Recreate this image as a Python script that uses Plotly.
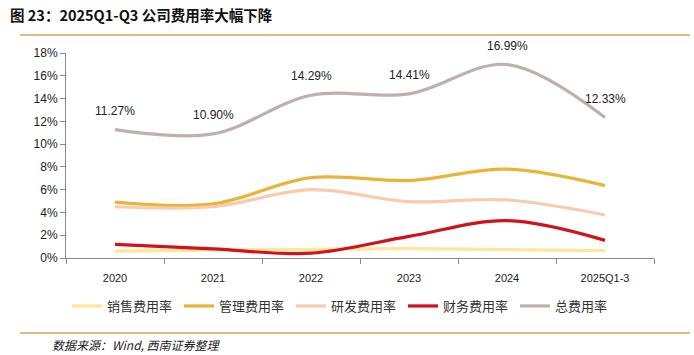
import plotly.graph_objects as go

categories = ["2020", "2021", "2022", "2023", "2024", "2025Q1-3"]
sales = [0.60, 0.70, 0.76, 0.82, 0.73, 0.64]
admin = [4.90, 4.75, 7.05, 6.80, 7.80, 6.35]
rnd = [4.50, 4.50, 6.00, 4.95, 5.10, 3.78]
finance = [1.20, 0.80, 0.42, 1.90, 3.28, 1.55]
total = [11.27, 10.90, 14.29, 14.41, 16.99, 12.33]
y_ticks = [0, 2, 4, 6, 8, 10, 12, 14, 16, 18]

series = [
    ("销售费用率", sales, "#FFE699"),
    ("管理费用率", admin, "#E9B43A"),
    ("研发费用率", rnd, "#F8CBAD"),
    ("财务费用率", finance, "#D0121C"),
    ("总费用率", total, "#BFB0B0"),
]

font_cjk = "Noto Sans CJK SC"
W, H = 694, 355
L, R, T, B = 66, 40, 53, 97
pw, ph = W - L - R, H - T - B


def px_x(x):
    return (x - L) / pw


def px_y(y):
    return (H - B - y) / ph


fig = go.Figure()
for name, vals, color in series:
    fig.add_trace(go.Scatter(
        x=categories, y=vals, name=name, mode="lines",
        line=dict(color=color, width=3.2, shape="spline", smoothing=1.0),
        cliponaxis=False,
    ))

annotations = []
for i, v in enumerate(total):
    annotations.append(dict(
        x=i, y=v, xref="x", yref="y", text=f"{v:.2f}%", showarrow=False,
        yshift=19, font=dict(size=12, color="#222222", family="Liberation Sans"),
    ))

annotations.append(dict(
    x=px_x(8), y=px_y(14), xref="paper", yref="paper", xanchor="left", yanchor="middle",
    text="<b>图 23：2025Q1-Q3 公司费用率大幅下降</b>", showarrow=False,
    font=dict(size=14.5, color="#111111", family=font_cjk),
))
annotations.append(dict(
    x=px_x(50), y=px_y(344), xref="paper", yref="paper", xanchor="left", yanchor="middle",
    showarrow=False, text="<i>数据来源：Wind, 西南证券整理</i>",
    font=dict(size=12, color="#222222", family=font_cjk),
))

shapes = [
    dict(type="line", xref="paper", yref="paper",
         x0=px_x(20), x1=px_x(690), y0=px_y(35), y1=px_y(35),
         line=dict(color="#D6A560", width=1.5)),
    dict(type="line", xref="paper", yref="paper",
         x0=px_x(20), x1=px_x(690), y0=px_y(333), y1=px_y(333),
         line=dict(color="#D6A560", width=1.5)),
]

fig.update_layout(
    width=W, height=H,
    margin=dict(l=L, r=R, t=T, b=B, autoexpand=False),
    paper_bgcolor="white", plot_bgcolor="white",
    showlegend=True,
    legend=dict(
        orientation="h", x=px_x(67), y=px_y(291),
        xanchor="left", yanchor="top",
        entrywidth=67, entrywidthmode="pixels",
        font=dict(size=13, color="#333333", family=font_cjk),
        itemwidth=30, bgcolor="rgba(0,0,0,0)",
        tracegroupgap=0,
    ),
    annotations=annotations,
    shapes=shapes,
    xaxis=dict(
        type="category", range=[-0.5, 5.5],
        showline=True, linecolor="#888888", linewidth=1,
        ticks="outside", tickson="boundaries", ticklen=5, tickcolor="#888888",
        showgrid=False, zeroline=False,
        tickfont=dict(size=11, color="#222222", family="Liberation Sans"),
        ticklabelstandoff=10,
    ),
    yaxis=dict(
        range=[0, 18], tickvals=y_ticks,
        ticktext=[f"{t}%" for t in y_ticks],
        showline=True, linecolor="#888888", linewidth=1,
        ticks="outside", ticklen=5, tickcolor="#888888",
        showgrid=False, zeroline=False,
        tickfont=dict(size=12, color="#222222", family="Liberation Sans"),
    ),
)

fig.write_html(
    "out.html",
    config={"displayModeBar": False},
    post_script="document.body.style.margin='0';document.body.style.overflow='hidden';",
)
